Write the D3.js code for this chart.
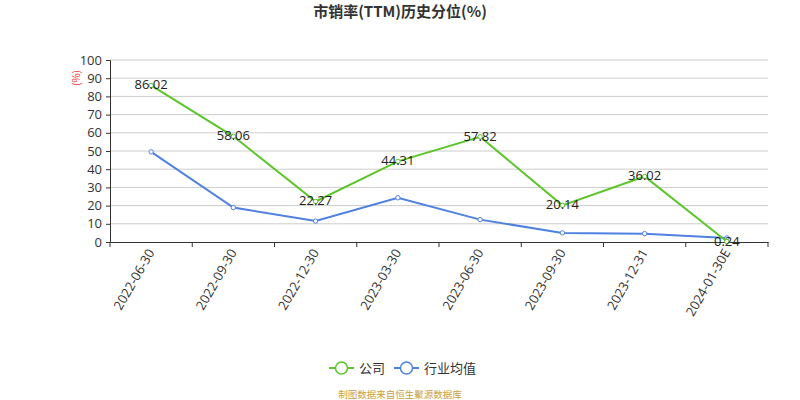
<!DOCTYPE html>
<html><head><meta charset="utf-8">
<script src="https://cdn.jsdelivr.net/npm/d3@7"></script>
<style>body{margin:0;background:#fff;}svg{display:block;font-family:"Microsoft YaHei","Noto Sans CJK SC",sans-serif;}</style>
</head><body>
<svg id="c" width="800" height="400"></svg>
<script>
const categories = ["2022-06-30","2022-09-30","2022-12-30","2023-03-30","2023-06-30","2023-09-30","2023-12-31","2024-01-30E"];
const companyValues = [86.02, 58.06, 22.27, 44.31, 57.82, 20.14, 36.02, 0.24];
const industryValues = [49.5, 18.9, 11.5, 24.3, 12.3, 5.0, 4.6, 2.2];
const yTicks = [0,10,20,30,40,50,60,70,80,90,100];
const seriesNames = ["公司","行业均值"];
const title = "市销率(TTM)历史分位(%)";
const source = "制图数据来自恒生聚源数据库";

const green = "#5cc52a", blue = "#4f81e0";
const svg = d3.select("#c");
const L = 110, R = 768, T = 60, B = 242;
const x = d3.scaleBand().domain(categories).range([L, R]);
const y = d3.scaleLinear().domain([0, 100]).range([B, T]);

svg.append("text").attr("x", 400).attr("y", 17).attr("text-anchor", "middle")
  .attr("font-size", 15).attr("font-weight", "bold").attr("fill", "#333").text(title);

// grid
svg.append("g").selectAll("line").data(yTicks.filter(d => d > 0)).join("line")
  .attr("x1", L).attr("x2", R).attr("y1", d => y(d)).attr("y2", d => y(d))
  .attr("stroke", "#ccc").attr("stroke-width", 1);

// y axis
const ya = svg.append("g").attr("transform", `translate(${L},0)`)
  .call(d3.axisLeft(y).tickValues(yTicks).tickSize(4).tickPadding(4));
ya.select(".domain").attr("stroke", "#333");
ya.selectAll(".tick line").attr("stroke", "#333");
ya.selectAll("text").attr("font-size", 13).attr("fill", "#333").attr("font-family", "Open Sans, sans-serif");

svg.append("text").attr("transform", "translate(80,78) rotate(-90)").attr("text-anchor", "middle")
  .attr("font-size", 10).attr("fill", "#e33").text("(%)");

// x axis
const xa = svg.append("g").attr("transform", `translate(0,${B})`)
  .call(d3.axisBottom(x).tickSize(0).tickPadding(8));
xa.select(".domain").attr("stroke", "#333");
xa.selectAll("text").attr("font-size", 13).attr("fill", "#333").attr("font-family", "Open Sans, sans-serif")
  .attr("text-anchor", "end").attr("dy", "0.35em")
  .attr("transform", "translate(-7,4) rotate(-60)");
// boundary ticks
const bounds = categories.map(c => x(c)).concat([R]);
svg.append("g").selectAll("line").data(bounds).join("line")
  .attr("x1", d => d).attr("x2", d => d).attr("y1", B).attr("y2", B + 5).attr("stroke", "#333");

const cx = c => x(c) + x.bandwidth() / 2;
function drawSeries(vals, color) {
  const line = d3.line().x((d, i) => cx(categories[i])).y(d => y(d));
  svg.append("path").datum(vals).attr("d", line).attr("fill", "none")
    .attr("stroke", color).attr("stroke-width", 2);
  svg.append("g").selectAll("circle").data(vals).join("circle")
    .attr("cx", (d, i) => cx(categories[i])).attr("cy", d => y(d)).attr("r", 2.2)
    .attr("fill", "#fff").attr("stroke", color).attr("stroke-width", 1);
}
drawSeries(industryValues, blue);
drawSeries(companyValues, green);

svg.append("g").selectAll("text").data(companyValues).join("text")
  .attr("x", (d, i) => cx(categories[i])).attr("y", d => y(d) + 4)
  .attr("text-anchor", "middle").attr("font-size", 13).attr("fill", "#222")
  .attr("font-family", "Open Sans, sans-serif")
  .text(d => d.toFixed(2));

// legend
const lg = [{name: seriesNames[0], color: green, x: 329}, {name: seriesNames[1], color: blue, x: 394}];
lg.forEach(l => {
  const g = svg.append("g");
  g.append("line").attr("x1", l.x).attr("x2", l.x + 25).attr("y1", 368).attr("y2", 368)
    .attr("stroke", l.color).attr("stroke-width", 2);
  g.append("circle").attr("cx", l.x + 12.5).attr("cy", 368).attr("r", 6)
    .attr("fill", "#fff").attr("stroke", l.color).attr("stroke-width", 1.5);
  g.append("text").attr("x", l.x + 30).attr("y", 373).attr("font-size", 13).attr("fill", "#333").text(l.name);
});

svg.append("text").attr("x", 400).attr("y", 398).attr("text-anchor", "middle")
  .attr("font-size", 9.5).attr("fill", "#c9a040").text(source);
</script>
</body></html>
